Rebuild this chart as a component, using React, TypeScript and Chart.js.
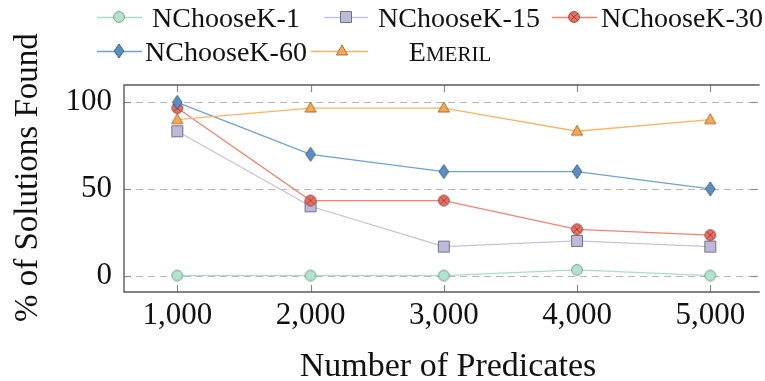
import React, { useEffect, useRef } from 'react';
import { Chart, registerables } from 'chart.js';

Chart.register(...registerables);

// ---- data ----
const predicates = [1000, 2000, 3000, 4000, 5000];
const nck1 = [0, 0, 0, 3.3, 0];
const nck15 = [83.3, 40, 16.7, 20, 16.7];
const nck30 = [96.7, 43.3, 43.3, 26.7, 23.3];
const nck60 = [100, 70, 60, 60, 50];
const emeril = [90, 96.7, 96.7, 83.3, 90];
const yTicks = [0, 50, 100];
const seriesNames = ['NChooseK-1', 'NChooseK-15', 'NChooseK-30', 'NChooseK-60', 'Emeril'];
const xTitle = 'Number of Predicates';
const yTitle = '% of Solutions Found';

const FONT = '"Liberation Serif", "DejaVu Serif", serif';

type Kind = 'circle' | 'square' | 'otimes' | 'diamond' | 'triangle';

const styles: { kind: Kind; line: string; fill: string; stroke: string }[] = [
  { kind: 'circle', line: '#a9dec6', fill: '#b3e3cc', stroke: '#6f9a86' },
  { kind: 'square', line: '#c5c2e0', fill: '#bcbad9', stroke: '#67657f' },
  { kind: 'otimes', line: '#fb8072', fill: '#ee6e62', stroke: '#8e3f37' },
  { kind: 'diamond', line: '#6fa2d0', fill: '#5b8ec2', stroke: '#36587e' },
  { kind: 'triangle', line: '#fdb462', fill: '#f9aa50', stroke: '#94652c' },
];

function makeMarker(kind: Kind, fill: string, stroke: string): HTMLCanvasElement {
  const c = document.createElement('canvas');
  const w = 16, h = 18;
  c.width = w; c.height = h;
  const ctx = c.getContext('2d')!;
  const cx = w / 2, cy = h / 2;
  ctx.fillStyle = fill;
  ctx.strokeStyle = stroke;
  ctx.lineWidth = 0.9;
  ctx.beginPath();
  if (kind === 'circle' || kind === 'otimes') {
    ctx.arc(cx, cy, 5.4, 0, Math.PI * 2);
  } else if (kind === 'square') {
    ctx.rect(cx - 5.5, cy - 5.5, 11, 11);
  } else if (kind === 'diamond') {
    ctx.moveTo(cx, cy - 7);
    ctx.lineTo(cx + 4.8, cy);
    ctx.lineTo(cx, cy + 7);
    ctx.lineTo(cx - 4.8, cy);
    ctx.closePath();
  } else {
    ctx.moveTo(cx, cy - 6);
    ctx.lineTo(cx + 5.6, cy + 4);
    ctx.lineTo(cx - 5.6, cy + 4);
    ctx.closePath();
  }
  ctx.fill();
  ctx.stroke();
  if (kind === 'otimes') {
    const d = 5.4 * Math.SQRT1_2;
    ctx.beginPath();
    ctx.moveTo(cx - d, cy - d); ctx.lineTo(cx + d, cy + d);
    ctx.moveTo(cx + d, cy - d); ctx.lineTo(cx - d, cy + d);
    ctx.stroke();
  }
  return c;
}

export default function App() {
  const ref = useRef<HTMLCanvasElement | null>(null);

  useEffect(() => {
    document.body.style.margin = '0';
    const canvas = ref.current!;
    const markers = styles.map((s) => makeMarker(s.kind, s.fill, s.stroke));
    const values = [nck1, nck15, nck30, nck60, emeril];

    const datasets = seriesNames.map((name, i) => ({
      label: name,
      data: predicates.map((x, j) => ({ x, y: values[i][j] })),
      borderColor: styles[i].line,
      backgroundColor: styles[i].fill,
      borderWidth: 1.3,
      pointStyle: markers[i] as any,
      pointRadius: 6,
      tension: 0,
      order: seriesNames.length - i,
    }));

    const framePlugin = {
      id: 'frame',
      beforeDatasetsDraw(chart: any) {
        const { ctx, chartArea: a, scales } = chart;
        const ys = scales.y, xs = scales.x;
        ctx.save();
        ctx.strokeStyle = '#b8b8b8';
        ctx.lineWidth = 1;
        ctx.setLineDash([7, 5]);
        yTicks.forEach((v) => {
          const py = Math.round(ys.getPixelForValue(v)) + 0.5;
          ctx.beginPath(); ctx.moveTo(a.left, py); ctx.lineTo(a.right, py); ctx.stroke();
        });
        ctx.setLineDash([]);
        ctx.strokeStyle = '#8a8a8a';
        ctx.lineWidth = 1.2;
        predicates.forEach((v) => {
          const px = Math.round(xs.getPixelForValue(v)) + 0.5;
          ctx.beginPath(); ctx.moveTo(px, a.bottom); ctx.lineTo(px, a.bottom - 7); ctx.stroke();
          ctx.beginPath(); ctx.moveTo(px, a.top); ctx.lineTo(px, a.top + 7); ctx.stroke();
        });
        yTicks.forEach((v) => {
          const py = Math.round(ys.getPixelForValue(v)) + 0.5;
          ctx.beginPath(); ctx.moveTo(a.left, py); ctx.lineTo(a.left + 7, py); ctx.stroke();
          ctx.beginPath(); ctx.moveTo(a.right, py); ctx.lineTo(a.right - 7, py); ctx.stroke();
        });
        ctx.strokeStyle = '#5a5a5a';
        ctx.lineWidth = 1.4;
        ctx.beginPath();
        ctx.moveTo(a.right + 2, a.top);
        ctx.lineTo(a.left, a.top);
        ctx.lineTo(a.left, a.bottom);
        ctx.lineTo(a.right + 2, a.bottom);
        ctx.stroke();
        ctx.restore();
      },
      afterDraw(chart: any) {
        const { ctx } = chart;
        ctx.save();
        ctx.fillStyle = '#111';
        ctx.font = `34px ${FONT}`;
        ctx.textAlign = 'center';
        ctx.textBaseline = 'alphabetic';
        ctx.fillText(xTitle, 448, 376);
        ctx.save();
        ctx.font = `33px ${FONT}`;
        ctx.translate(37, 322);
        ctx.rotate(-Math.PI / 2);
        ctx.textAlign = 'left';
        ctx.fillText(yTitle, 0, 0);
        ctx.restore();

        const items = [
          { x0: 97, x1: 142, m: 119, tc: 226, y: 17, b: 27 },
          { x0: 324, x1: 368, m: 346, tc: 459, y: 17, b: 27 },
          { x0: 552, x1: 597, m: 574, tc: 682, y: 17, b: 27 },
          { x0: 97, x1: 142, m: 119, tc: 226, y: 51, b: 61 },
          { x0: 311, x1: 368, m: 342, tc: 450, y: 51, b: 61 },
        ];
        items.forEach((it, i) => {
          ctx.strokeStyle = styles[i].line;
          ctx.lineWidth = 1.3;
          ctx.beginPath(); ctx.moveTo(it.x0, it.y + 0.5); ctx.lineTo(it.x1, it.y + 0.5); ctx.stroke();
          const mk = markers[i];
          ctx.drawImage(mk, it.m - mk.width / 2, it.y - mk.height / 2);
          ctx.fillStyle = '#111';
          if (seriesNames[i] === 'Emeril') {
            const big = `28px ${FONT}`, small = `21px ${FONT}`;
            const first = 'E', rest = 'MERIL';
            ctx.font = big; const w1 = ctx.measureText(first).width;
            ctx.font = small; const w2 = ctx.measureText(rest).width;
            const start = it.tc - (w1 + w2) / 2;
            ctx.textAlign = 'left';
            ctx.font = big; ctx.fillText(first, start, it.b);
            ctx.font = small; ctx.fillText(rest, start + w1, it.b);
          } else {
            ctx.font = `28px ${FONT}`;
            ctx.textAlign = 'center';
            ctx.fillText(seriesNames[i], it.tc, it.b);
          }
        });
        ctx.restore();
      },
    };

    const chart = new Chart(canvas, {
      type: 'line',
      data: { datasets: datasets as any },
      options: {
        animation: false,
        responsive: false,
        devicePixelRatio: 1,
        layout: { padding: { top: 85, left: 0, right: 0, bottom: 0 } },
        plugins: { legend: { display: false }, tooltip: { enabled: false } },
        scales: {
          x: {
            type: 'linear',
            min: 600,
            max: 5356,
            grid: { display: false, drawTicks: false },
            border: { display: false },
            afterBuildTicks: (s: any) => { s.ticks = predicates.map((v) => ({ value: v })); },
            afterFit: (s: any) => { s.height = 89; },
            ticks: {
              padding: 5,
              color: '#111',
              font: { family: FONT, size: 31 },
              maxRotation: 0,
              callback: (v: any) => Number(v).toLocaleString('en-US'),
            },
          },
          y: {
            type: 'linear',
            min: -9.5,
            max: 110,
            grid: { display: false, drawTicks: false },
            border: { display: false },
            afterBuildTicks: (s: any) => { s.ticks = yTicks.map((v) => ({ value: v })); },
            afterFit: (s: any) => { s.width = 124; },
            ticks: {
              padding: 12,
              color: '#111',
              font: { family: FONT, size: 31 },
            },
          },
        },
      },
      plugins: [framePlugin],
    });
    return () => chart.destroy();
  }, []);

  return <canvas ref={ref} width={765} height={381} style={{ display: 'block' }} />;
}
